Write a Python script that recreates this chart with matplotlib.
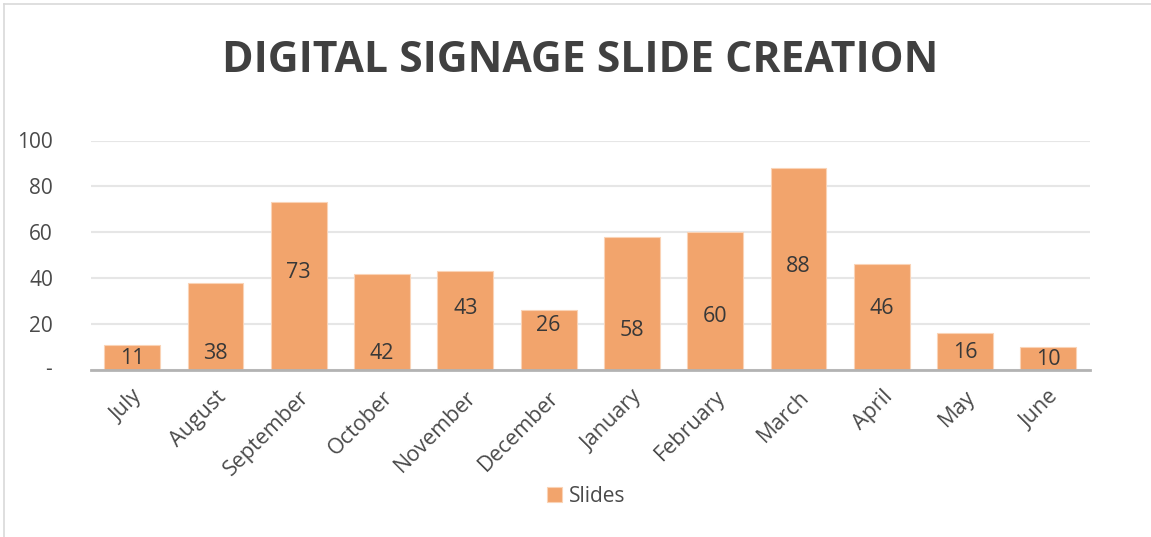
import matplotlib
matplotlib.use("Agg")
import matplotlib.pyplot as plt
from matplotlib.lines import Line2D
from matplotlib.transforms import ScaledTranslation

months = ["July", "August", "September", "October", "November", "December",
          "January", "February", "March", "April", "May", "June"]
slides = [11, 38, 73, 42, 43, 26, 58, 60, 88, 46, 16, 10]
# vertical placement of each data label (in data units), as seen in the reference
label_y = [5.2, 7.0, 42.4, 7.0, 26.6, 19.3, 17.0, 23.1, 44.9, 27.0, 7.5, 4.4]
yticks = [0, 20, 40, 60, 80, 100]
ytick_labels = ["", "20", "40", "60", "80", "100"]
zero_label = "-"
title = "DIGITAL SIGNAGE SLIDE CREATION"
series_name = "Slides"

FONT = "Open Sans"
W, H, DPI = 1151, 537, 100
fig = plt.figure(figsize=(W / DPI, H / DPI), dpi=DPI)
fig.patch.set_facecolor("white")

# frame lines (left and top) of the chart area
fig.add_artist(Line2D([4 / W, 4 / W], [0, 1 - 4 / H], color="#D9D9D9", lw=1.2))
fig.add_artist(Line2D([4 / W, 1], [1 - 4 / H, 1 - 4 / H], color="#D9D9D9", lw=1.2))

ax = fig.add_axes([90.6 / W, (H - 370) / H, (1090 - 90.6) / W, 229.5 / H])
x = range(len(months))
bars = ax.bar(x, slides, width=0.67, color="#F2A46C", edgecolor="#FAD3B6",
              linewidth=0.8, zorder=3, label=series_name)
ax.set_xlim(-0.5, len(months) - 0.5)
ax.set_ylim(0, 100)
ax.set_yticks(yticks)
ax.set_yticklabels(ytick_labels, fontsize=15, color="#4A4A4A", family=FONT)
ax.grid(axis="y", color="#E6E6E6", lw=1.5, zorder=0)
ax.set_axisbelow(True)
for s in ["left", "right", "top"]:
    ax.spines[s].set_visible(False)
ax.spines["bottom"].set_color("#B3B3B3")
ax.spines["bottom"].set_linewidth(2)
ax.spines["bottom"].set_zorder(4)
ax.tick_params(axis="both", length=0)
ax.tick_params(axis="y", pad=27)
# the zero label ("-") sits a little to the right, as in accounting format
ax.text(0, yticks[0], zero_label, ha="center", va="center", fontsize=15,
        color="#4A4A4A", family=FONT,
        transform=ax.get_yaxis_transform() +
        ScaledTranslation(-42 / DPI, 0, fig.dpi_scale_trans))
ax.set_xticks(list(x))
ax.set_xticklabels(months, rotation=45, ha="right", va="top",
                   rotation_mode="anchor", fontsize=15.5, color="#4A4A4A", family=FONT)
ax.tick_params(axis="x", pad=12)

for i, (v, ly) in enumerate(zip(slides, label_y)):
    ax.text(i, ly, str(v), ha="center", va="center", fontsize=15.5,
            color="#383838", family=FONT, zorder=5)

# title, sized to the reference width
t = fig.text(0.5 * (222 + 938) / W, 1 - 60 / H, title, ha="center", va="center",
             fontsize=30, fontweight="bold", color="#404040", family=FONT)
fig.canvas.draw()
bb = t.get_window_extent()
t.set_fontsize(30 * (938 - 222) / bb.width)

leg = fig.legend(handles=[bars], labels=[series_name], loc="center",
                 bbox_to_anchor=(586 / W, 1 - 496 / H), frameon=False,
                 prop={"family": FONT, "size": 15}, handlelength=0.75,
                 handleheight=0.75, handletextpad=0.3)
for txt in leg.get_texts():
    txt.set_color("#4A4A4A")

fig.savefig("out.png", dpi=DPI)
